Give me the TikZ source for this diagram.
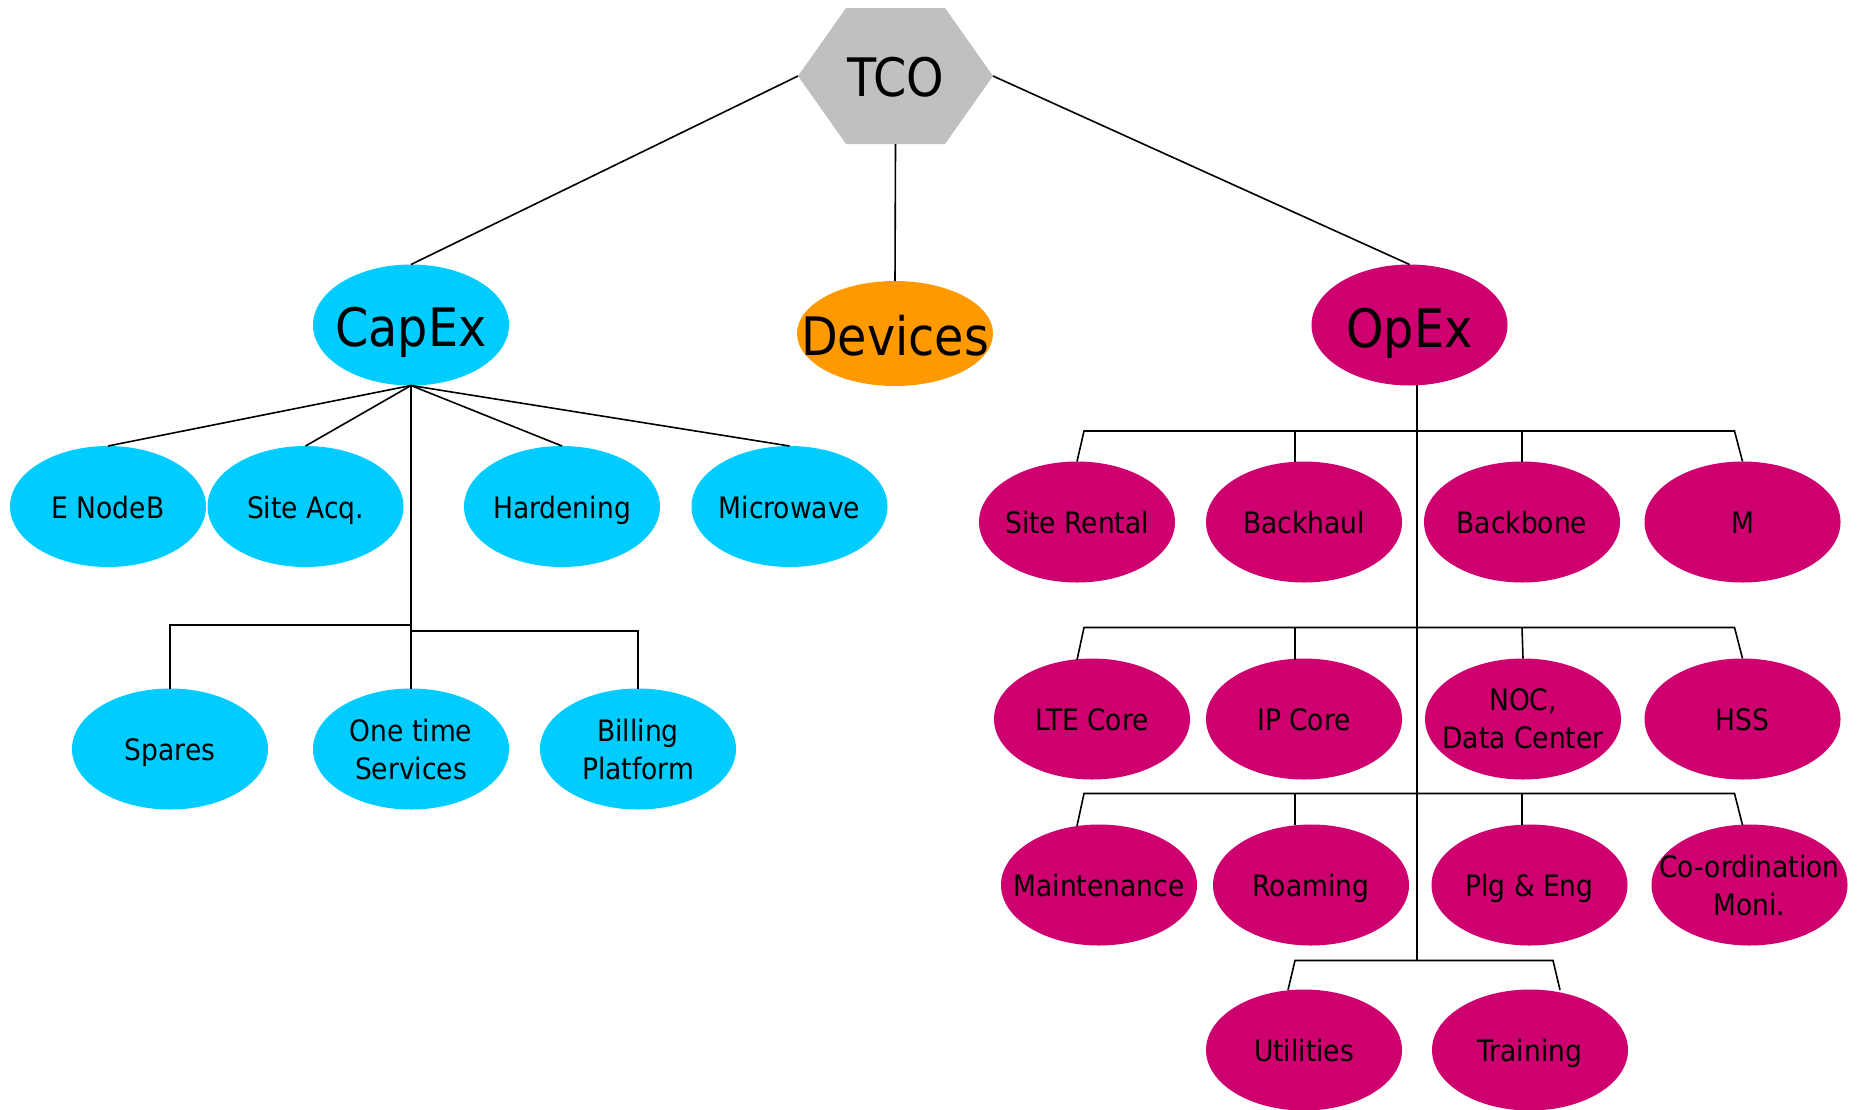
\documentclass[tikz,border=0pt]{standalone}
\usepackage{fontspec}
\setmainfont{DejaVu Sans Condensed}
\usetikzlibrary{shapes.geometric}
\definecolor{hexgray}{RGB}{192,192,192}
\definecolor{capcyan}{RGB}{0,204,255}
\definecolor{devorange}{RGB}{255,153,0}
\definecolor{opexrose}{RGB}{206,0,112}

\begin{document}
\begin{tikzpicture}[x=1pt,y=-1pt,
  big/.style={font=\fontsize{53}{60}\selectfont, text height=38.7pt, text depth=0pt, inner sep=0pt},
  one/.style={font=\fontsize{29.5}{38}\selectfont, text height=21.5pt, text depth=0pt, inner sep=0pt},
  two/.style={font=\fontsize{29.5}{38}\selectfont, align=center, inner sep=0pt},
  oval/.style={ellipse, minimum width=196pt, minimum height=121pt, inner sep=0pt, outer sep=0pt},
  capleaf/.style={oval, fill=capcyan},
  opleaf/.style={oval, fill=opexrose},
  link/.style={line width=1.6pt, black},
]
\useasboundingbox (0,0) rectangle (1862,1109);

% ---- root hexagon ----
\fill[hexgray] (798,76) -- (846,8) -- (945,8) -- (993,76) -- (945,144) -- (846,144) -- cycle;
\node[big] (tco) at (895.5,77.5) {TCO};
\coordinate (tcoW) at (798,76);
\coordinate (tcoE) at (993,76);
\coordinate (tcoS) at (895.5,144);

% ---- second level ----
\node[capleaf, label={[big,yshift=-2.5pt]center:CapEx}] (capex) at (411,325) {};
\node[oval, fill=devorange, minimum height=105pt, label={[big,yshift=-2.5pt]center:Devices}] (dev) at (895,333.5) {};
\node[opleaf, label={[big,yshift=-3pt]center:OpEx}] (opex) at (1409.5,325) {};

\draw[link] (tcoW) -- (capex.north);
\draw[link] (tcoS) -- (dev.north);
\draw[link] (tcoE) -- (opex.north);

% ---- CapEx branch ----
\node[capleaf, label={[one,yshift=-1pt]center:E NodeB}]    (enb)  at (108,506.5) {};
\node[capleaf, label={[one,yshift=-1pt]center:Site Acq.}]  (sacq) at (305.5,506.5) {};
\node[capleaf, label={[one,yshift=-1pt]center:Hardening}]  (hard) at (562,506.5) {};
\node[capleaf, label={[one,yshift=-1pt]center:Microwave}]  (mw)   at (789.5,506.5) {};
\node[capleaf, label={[one,yshift=-1pt]center:Spares}]     (spares) at (170,749) {};
\node[capleaf, label={[two]center:One time\\Services}]     (ots)  at (411,749) {};
\node[capleaf, label={[two]center:Billing\\Platform}]      (bill) at (638,749) {};

\foreach \n in {enb,sacq,hard,mw} \draw[link] (capex.south) -- (\n.north);
\draw[link] (capex.south) -- (ots.north);
\coordinate (cbusL) at (411,625);
\coordinate (cbusR) at (411,631);
\draw[link] (cbusL) -| (spares.north);
\draw[link] (cbusR) -| (bill.north);

% ---- OpEx branch ----
\node[opleaf, label={[one,yshift=-1pt]center:Site Rental}] (sr)  at (1077,522) {};
\node[opleaf, label={[one,yshift=-1pt]center:Backhaul}]    (bh)  at (1304,522) {};
\node[opleaf, label={[one,yshift=-1pt]center:Backbone}]    (bb)  at (1522,522) {};
\node[opleaf, label={[one,yshift=-1pt]center:M}]           (m)   at (1742.5,522) {};

\node[opleaf, label={[one,yshift=-1pt]center:LTE Core}]    (lte) at (1092,719) {};
\node[opleaf, label={[one,yshift=-1pt]center:IP Core}]     (ipc) at (1304,719) {};
\node[opleaf, label={[two]center:NOC,\\Data Center}]       (noc) at (1523,719) {};
\node[opleaf, label={[one,yshift=-1pt]center:HSS}]         (hss) at (1742.5,719) {};

\node[opleaf, label={[one,yshift=-1pt]center:Maintenance}] (mnt)   at (1099,885) {};
\node[opleaf, label={[one,yshift=-1pt]center:Roaming}]     (roam)  at (1311,885) {};
\node[opleaf, label={[one,yshift=-1pt]center:Plg \& Eng}]  (plg)   at (1529.5,885) {};
\node[opleaf, label={[two]center:Co-ordination\\Moni.}]    (coord) at (1749.5,885) {};

\node[opleaf, label={[one,yshift=-1pt]center:Utilities}]   (util) at (1304,1050) {};
\node[opleaf, label={[one,yshift=-1pt]center:Training}]    (trn)  at (1530,1050) {};

% trunk
\coordinate (stemTop) at (1417,385);
\coordinate (stemBot) at (1417,960.5);
\draw[link] (stemTop) -- (stemBot);

% row 1 bus
\draw[link] (sr.north) -- (1084,431) -- (1734.5,431) -- (m.north);
\draw[link] (1295,431) -- (1295,462);
\draw[link] (1522,431) -- (bb.north);

% row 2 bus
\draw[link] (1077,660) -- (1084,627.5) -- (1734.5,627.5) -- (hss.north);
\draw[link] (1295,627.5) -- (1295,660);
\draw[link] (1522,627.5) -- (noc.north);

% row 3 bus
\draw[link] (1077,826) -- (1084,793.5) -- (1734.5,793.5) -- (1742.5,825);
\draw[link] (1295,793.5) -- (1295,825);
\draw[link] (1522,793.5) -- (1522,825);

% row 4 bus
\draw[link] (1288,990) -- (1295,960.5) -- (1553,960.5) -- (1560,990);
\end{tikzpicture}
\end{document}
